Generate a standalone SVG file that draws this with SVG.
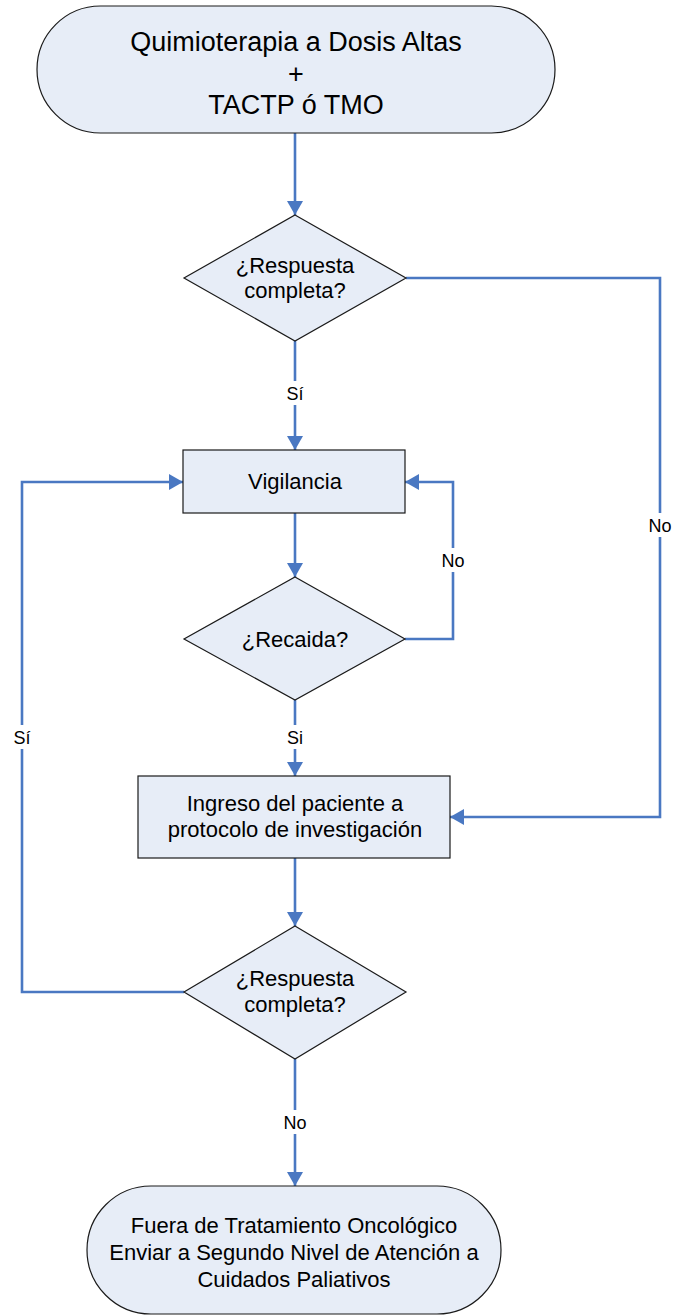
<svg xmlns="http://www.w3.org/2000/svg" width="673" height="1316" viewBox="0 0 673 1316">
<style>
.node{fill:#E7EDF7;stroke:#1a1a1a;stroke-width:1.2}
.t{font-family:"Liberation Sans",Arial,sans-serif;font-size:22px;fill:#000;text-anchor:middle}
.big{font-size:27px}
.lbl{font-family:"Liberation Sans",Arial,sans-serif;font-size:18px;fill:#000;text-anchor:middle}
.c{fill:none;stroke:#4A78C2;stroke-width:2.6}
.bg{fill:#fff}
</style>
<defs>
<marker id="ah" markerUnits="userSpaceOnUse" markerWidth="15" markerHeight="17" refX="14" refY="8" orient="auto">
<path d="M0,0 L14,8 L0,16 Z" fill="#4A78C2"/>
</marker>
</defs>
<rect width="673" height="1316" fill="#fff"/>
<g id="connectors">
<path class="c" d="M295,133 V215" marker-end="url(#ah)"/>
<path class="c" d="M295,341 V450" marker-end="url(#ah)"/>
<path class="c" d="M406,278 H660 V817 H450" marker-end="url(#ah)"/>
<path class="c" d="M295,513 V577" marker-end="url(#ah)"/>
<path class="c" d="M405,639 H453 V482 H405" marker-end="url(#ah)"/>
<path class="c" d="M295,700 V776" marker-end="url(#ah)"/>
<path class="c" d="M295,858 V926" marker-end="url(#ah)"/>
<path class="c" d="M184,992 H22 V482 H183" marker-end="url(#ah)"/>
<path class="c" d="M295,1059 V1186" marker-end="url(#ah)"/>
<rect class="bg" x="283" y="381" width="24" height="24"/>
<text class="lbl" x="295" y="400">Sí</text>
<rect class="bg" x="647" y="513" width="26" height="24"/>
<text class="lbl" x="660" y="532">No</text>
<rect class="bg" x="440" y="548" width="26" height="24"/>
<text class="lbl" x="453" y="567">No</text>
<rect class="bg" x="284" y="725" width="22" height="24"/>
<text class="lbl" x="295" y="744">Si</text>
<rect class="bg" x="10" y="725" width="24" height="24"/>
<text class="lbl" x="22" y="744">Sí</text>
<rect class="bg" x="282" y="1110" width="26" height="24"/>
<text class="lbl" x="295" y="1129">No</text>
</g>
<g id="start">
<rect class="node" x="37" y="6" width="518" height="127" rx="63.5"/>
<text class="t big" x="296" y="51">Quimioterapia a Dosis Altas</text>
<text class="t big" x="296" y="83">+</text>
<text class="t big" x="296" y="114">TACTP ó TMO</text>
</g>
<g id="respuesta1">
<polygon class="node" points="295,215 406,278 295,341 184,278"/>
<text class="t" x="295" y="273">¿Respuesta</text>
<text class="t" x="295" y="298">completa?</text>
</g>
<g id="vigilancia">
<rect class="node" x="183" y="450" width="222" height="63"/>
<text class="t" x="295" y="489">Vigilancia</text>
</g>
<g id="recaida">
<polygon class="node" points="295,577 405,639 295,700 184,639"/>
<text class="t" x="295" y="647">¿Recaida?</text>
</g>
<g id="ingreso">
<rect class="node" x="138" y="776" width="312" height="82"/>
<text class="t" x="295" y="811">Ingreso del paciente a</text>
<text class="t" x="295" y="837">protocolo de investigación</text>
</g>
<g id="respuesta2">
<polygon class="node" points="295,926 406,992 295,1059 184,992"/>
<text class="t" x="295" y="986">¿Respuesta</text>
<text class="t" x="295" y="1012">completa?</text>
</g>
<g id="fin">
<rect class="node" x="87" y="1186" width="414" height="128" rx="64"/>
<text class="t" x="294" y="1233">Fuera de Tratamiento Oncológico</text>
<text class="t" x="294" y="1260">Enviar a Segundo Nivel de Atención a</text>
<text class="t" x="294" y="1287">Cuidados Paliativos</text>
</g>
</svg>
